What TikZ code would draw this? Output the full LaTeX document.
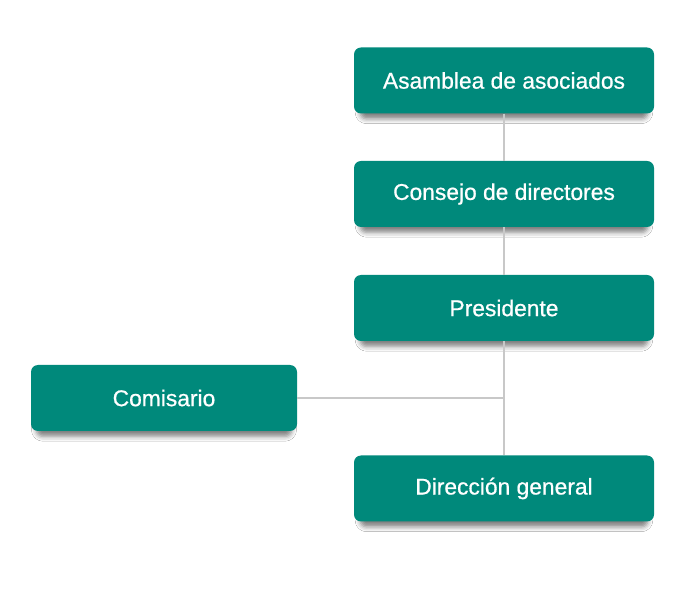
\documentclass[tikz,border=0pt]{standalone}
\usepackage{fontspec}
\setmainfont{Liberation Sans}
\newfontfamily\boxfont{Liberation Sans}[FakeBold=0.7]
\usetikzlibrary{shadows.blur}
\definecolor{teal6}{HTML}{00897B}
\definecolor{linegray}{HTML}{C8C8C8}
\begin{document}
\begin{tikzpicture}[x=1pt,y=-1pt,
  orgbox/.style={fill=teal6, rounded corners=7pt, minimum height=66pt, text=white,
    font=\boxfont\fontsize{22.8}{26}\selectfont,
    blur shadow={shadow xshift=0pt, shadow yshift=-7pt, shadow scale=0.96, shadow opacity=50, shadow blur radius=5pt}},
  wide/.style={orgbox, minimum width=300pt},
  narrow/.style={orgbox, minimum width=266pt},
  link/.style={draw=linegray, line width=1.8pt}]
\useasboundingbox (0,0) rectangle (694,593);
\fill[white] (0,0) rectangle (694,593);
\node[wide] (asa) at (504,80.5) {Asamblea de asociados};
\node[wide] (con) at (504,194) {Consejo de directores};
\node[wide] (pre) at (504,308) {Presidente};
\node[narrow] (com) at (164,398) {Comisario};
\node[wide] (dir) at (504,488.5) {Dirección general};
\coordinate (j) at (504,398);
\draw[link] (asa.south) -- (con.north);
\draw[link] (con.south) -- (pre.north);
\draw[link] (pre.south) -- (j) -- (dir.north);
\draw[link] (com.east) -- (j);
\end{tikzpicture}
\end{document}
